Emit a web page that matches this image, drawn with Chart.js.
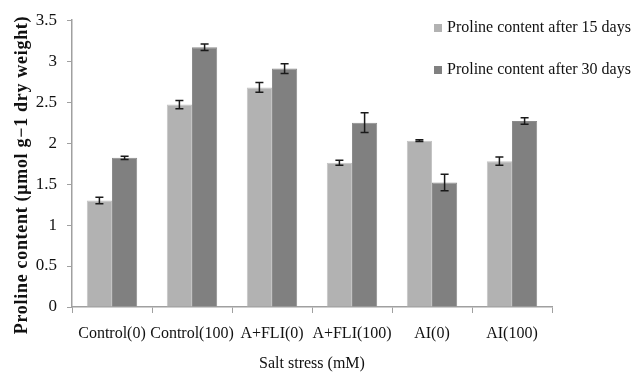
<!DOCTYPE html>
<html>
<head>
<meta charset="utf-8">
<script src="https://cdn.jsdelivr.net/npm/chart.js@4"></script>
<style>
  html, body { margin: 0; padding: 0; background: #fff; }
  #wrap { width: 641px; height: 377px; position: relative; }
</style>
</head>
<body>
<div id="wrap"><canvas id="chart"></canvas></div>
<script>
// Chart data
const categories = ['Control(0)', 'Control(100)', 'A+FLI(0)', 'A+FLI(100)', 'AI(0)', 'AI(100)'];
const after15 = [1.30, 2.47, 2.68, 1.76, 2.03, 1.78];
const after15Err = [0.04, 0.05, 0.06, 0.03, 0.01, 0.05];
const after30 = [1.82, 3.17, 2.91, 2.25, 1.52, 2.27];
const after30Err = [0.02, 0.04, 0.06, 0.12, 0.10, 0.04];
const yTicks = [0, 0.5, 1, 1.5, 2, 2.5, 3, 3.5];
const yTitle = 'Proline content (μmol g−1 dry weight)';

const serif = '"Liberation Serif", "Times New Roman", serif';
const axisGray = '#a0a0a0';

// Draws error bars, the y title and the legend box in the top right
const extras = {
    id: 'extras',
    afterDatasetsDraw(chart) {
        const ctx = chart.ctx;
        const y = chart.scales.y;
        ctx.save();
        ctx.strokeStyle = '#1a1a1a';
        ctx.lineWidth = 1.5;
        chart.data.datasets.forEach((ds, di) => {
            const meta = chart.getDatasetMeta(di);
            meta.data.forEach((bar, i) => {
                const v = ds.data[i], e = ds.errors[i];
                const top = y.getPixelForValue(v + e);
                const bot = y.getPixelForValue(v - e);
                ctx.beginPath();
                ctx.moveTo(bar.x, top); ctx.lineTo(bar.x, bot);
                ctx.moveTo(bar.x - 4, top); ctx.lineTo(bar.x + 4, top);
                ctx.moveTo(bar.x - 4, bot); ctx.lineTo(bar.x + 4, bot);
                ctx.stroke();
            });
        });

        // y axis title, sits a little below the middle of the axis
        ctx.save();
        ctx.fillStyle = '#111';
        ctx.font = 'bold 18px ' + serif;
        ctx.letterSpacing = '0.7px';
        ctx.textAlign = 'center';
        ctx.textBaseline = 'middle';
        ctx.translate(22, 175);
        ctx.rotate(-Math.PI / 2);
        ctx.fillText(yTitle, 0, 0);
        ctx.restore();

        // legend
        ctx.font = '16px ' + serif;
        ctx.textAlign = 'left';
        ctx.textBaseline = 'middle';
        chart.data.datasets.forEach((ds, di) => {
            const cy = 28 + di * 42;
            ctx.fillStyle = ds.backgroundColor;
            ctx.fillRect(434, cy - 4, 8, 8);
            ctx.fillStyle = '#111';
            ctx.fillText(ds.label, 447, cy);
        });
        ctx.restore();
    }
};

const ctx = document.getElementById('chart').getContext('2d');
new Chart(ctx, {
    type: 'bar',
    data: {
        labels: categories,
        datasets: [
            {
                label: 'Proline content after 15 days',
                data: after15,
                errors: after15Err,
                backgroundColor: '#b2b2b2',
                borderColor: '#c4c4c4',
                borderWidth: 1
            },
            {
                label: 'Proline content after 30 days',
                data: after30,
                errors: after30Err,
                backgroundColor: '#808080',
                borderColor: '#8c8c8c',
                borderWidth: 1
            }
        ]
    },
    options: {
        responsive: true,
        maintainAspectRatio: false,
        animation: false,
        datasets: {
            bar: { categoryPercentage: 0.63, barPercentage: 1.0 }
        },
        layout: { padding: { top: 19, right: 89, left: 0, bottom: 0 } },
        plugins: {
            legend: { display: false },
            tooltip: { enabled: false }
        },
        scales: {
            x: {
                grid: {
                    offset: true,
                    drawOnChartArea: false,
                    drawTicks: true,
                    tickLength: 6,
                    color: axisGray
                },
                border: { color: axisGray, width: 1.5 },
                ticks: {
                    color: '#111',
                    font: { family: serif, size: 16 },
                    padding: 11,
                    autoSkip: false,
                    maxRotation: 0
                },
                title: {
                    display: true,
                    text: 'Salt stress (mM)',
                    color: '#111',
                    font: { family: serif, size: 16 },
                    padding: { top: 2 }
                },
                afterFit(scale) { scale.height = 70; }
            },
            y: {
                min: 0,
                max: 3.5,
                afterBuildTicks(scale) { scale.ticks = yTicks.map(v => ({ value: v })); },
                grid: {
                    drawOnChartArea: false,
                    drawTicks: true,
                    tickLength: 5,
                    color: axisGray
                },
                border: { color: axisGray, width: 1.5 },
                ticks: {
                    color: '#111',
                    font: { family: serif, size: 17 },
                    padding: 10,
                    callback: v => String(v)
                },
                title: { display: false },
                afterFit(scale) { scale.width = 72; }
            }
        }
    },
    plugins: [extras]
});
</script>
</body>
</html>
